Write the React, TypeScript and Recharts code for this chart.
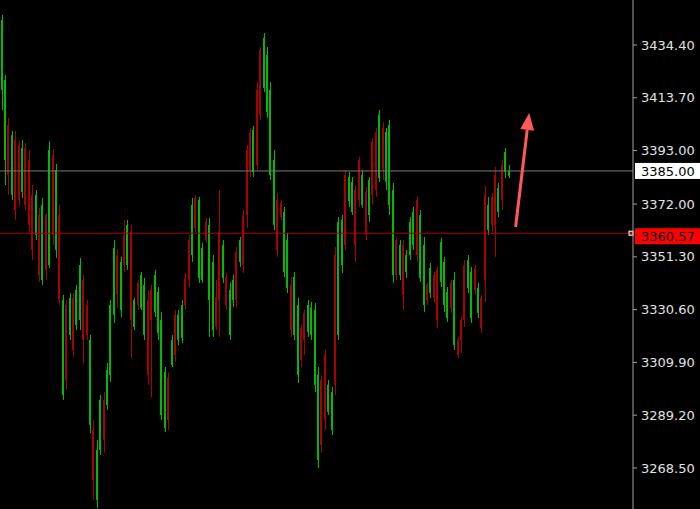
import React from 'react';
import { ComposedChart, Bar, XAxis, YAxis, ReferenceLine } from 'recharts';

// candle values
const opens = [
  3416.8, 3389.3, 3403.0, 3375.6, 3397.1, 3395.2, 3376.8, 3394.0, 3389.3, 3375.6,
  3359.9, 3367.7, 3342.2, 3367.7, 3348.1, 3391.3, 3354.0, 3367.7, 3297.1, 3332.4,
  3320.7, 3335.2, 3324.6, 3326.5, 3342.2, 3332.4, 3285.4, 3283.4, 3256.0, 3275.6,
  3295.2, 3293.2, 3305.0, 3328.5, 3352.0, 3330.5, 3359.9, 3348.1, 3361.1, 3323.8,
  3341.1, 3331.3, 3320.7, 3334.4, 3338.3, 3329.7, 3321.4, 3289.3, 3284.2, 3303.8,
  3308.9, 3328.5, 3318.7, 3319.5, 3343.0, 3357.9, 3352.0, 3374.4, 3343.0, 3342.2,
  3365.0, 3334.4, 3322.6, 3335.6, 3361.1, 3343.0, 3343.4, 3320.7, 3334.4, 3353.2,
  3349.3, 3367.7, 3393.2, 3399.9, 3384.6, 3416.8, 3432.4, 3417.5, 3408.1, 3383.4,
  3363.8, 3373.6, 3372.4, 3345.4, 3339.1, 3340.3, 3320.7, 3305.0, 3323.4, 3329.3,
  3321.8, 3320.7, 3301.1, 3271.6, 3303.0, 3312.8, 3290.5, 3283.4, 3352.0, 3320.7,
  3348.1, 3383.4, 3373.2, 3368.9, 3377.5, 3389.3, 3371.7, 3376.8, 3367.7, 3396.4,
  3400.3, 3382.2, 3401.9, 3380.7, 3371.7, 3344.2, 3357.9, 3344.2, 3356.0, 3345.4,
  3352.0, 3356.0, 3373.6, 3343.0, 3332.4, 3340.3, 3337.1, 3344.2, 3346.2, 3341.5,
  3332.4, 3327.3, 3341.1, 3316.7, 3318.7, 3326.5, 3348.1, 3339.1, 3327.3, 3346.9,
  3329.3, 3335.2, 3375.6, 3361.8, 3374.8, 3383.4, 3368.9, 3387.3, 3384.6, 3383.0,
];
const highs = [
  3446.2, 3422.6, 3405.8, 3400.7, 3400.7, 3396.8, 3397.1, 3396.0, 3393.2, 3379.5,
  3377.5, 3370.5, 3374.4, 3368.5, 3396.8, 3393.6, 3387.7, 3371.7, 3336.4, 3334.4,
  3337.1, 3337.1, 3340.3, 3350.9, 3344.2, 3334.4, 3320.7, 3287.3, 3279.5, 3297.1,
  3298.3, 3309.7, 3334.4, 3357.9, 3354.4, 3351.3, 3365.8, 3365.8, 3363.8, 3335.2,
  3342.2, 3345.4, 3343.0, 3338.3, 3340.3, 3346.2, 3339.5, 3329.7, 3308.1, 3305.8,
  3320.7, 3330.5, 3330.5, 3334.4, 3345.0, 3359.9, 3374.4, 3375.6, 3374.8, 3356.8,
  3366.6, 3366.6, 3352.0, 3342.2, 3377.5, 3357.9, 3345.0, 3341.1, 3344.2, 3355.2,
  3359.1, 3369.7, 3395.2, 3401.9, 3402.6, 3419.9, 3433.6, 3439.1, 3433.6, 3419.9,
  3393.2, 3376.4, 3373.6, 3370.9, 3360.7, 3343.4, 3345.4, 3335.2, 3324.6, 3330.5,
  3334.4, 3333.6, 3333.2, 3308.1, 3305.0, 3314.8, 3303.0, 3300.3, 3355.2, 3366.9,
  3367.7, 3385.4, 3384.6, 3382.6, 3379.5, 3390.5, 3385.4, 3378.7, 3382.6, 3397.9,
  3401.9, 3408.9, 3404.2, 3401.9, 3405.0, 3380.3, 3359.1, 3357.9, 3357.9, 3354.0,
  3366.9, 3370.9, 3374.8, 3369.7, 3359.1, 3341.1, 3348.9, 3345.4, 3347.3, 3358.7,
  3351.3, 3339.5, 3342.2, 3345.4, 3319.9, 3327.7, 3350.1, 3352.0, 3347.3, 3348.1,
  3341.1, 3336.4, 3379.1, 3374.8, 3376.4, 3386.6, 3380.3, 3389.3, 3394.0, 3387.3,
];
const lows = [
  3408.9, 3379.5, 3375.6, 3373.6, 3365.8, 3370.9, 3374.4, 3369.7, 3361.1, 3350.1,
  3357.9, 3341.5, 3340.3, 3342.2, 3346.9, 3356.0, 3350.9, 3332.4, 3295.2, 3299.1,
  3318.7, 3312.0, 3322.6, 3322.6, 3309.7, 3318.7, 3282.2, 3256.0, 3252.8, 3273.6,
  3274.4, 3291.3, 3302.2, 3325.4, 3331.3, 3327.7, 3345.4, 3346.2, 3311.6, 3322.6,
  3330.5, 3330.5, 3318.7, 3301.1, 3296.3, 3327.7, 3318.7, 3287.3, 3282.6, 3283.4,
  3308.1, 3310.1, 3316.7, 3317.5, 3330.5, 3339.5, 3349.3, 3361.1, 3341.1, 3341.1,
  3356.8, 3319.9, 3319.9, 3322.6, 3319.9, 3341.1, 3330.5, 3318.7, 3331.6, 3331.6,
  3347.3, 3345.0, 3362.6, 3382.6, 3382.6, 3385.4, 3405.0, 3416.0, 3405.8, 3381.5,
  3361.8, 3351.3, 3365.8, 3343.4, 3337.1, 3319.9, 3318.7, 3301.8, 3308.1, 3312.8,
  3319.9, 3318.7, 3298.3, 3268.5, 3274.4, 3283.4, 3289.3, 3281.4, 3297.1, 3318.7,
  3345.0, 3354.0, 3370.9, 3367.7, 3349.3, 3370.9, 3370.5, 3357.9, 3365.0, 3371.7,
  3374.8, 3380.7, 3381.5, 3377.5, 3367.7, 3341.1, 3342.2, 3342.2, 3330.5, 3343.0,
  3350.1, 3354.0, 3349.3, 3341.5, 3329.7, 3332.4, 3335.2, 3333.2, 3323.4, 3339.5,
  3329.7, 3325.8, 3329.3, 3314.8, 3311.6, 3313.6, 3323.8, 3337.1, 3325.4, 3336.4,
  3327.3, 3321.4, 3333.6, 3359.9, 3361.1, 3351.3, 3366.9, 3369.7, 3382.2, 3382.2,
];
const closes = [
  3444.2, 3420.7, 3383.4, 3399.1, 3369.7, 3373.6, 3394.0, 3371.7, 3363.8, 3354.0,
  3375.6, 3344.2, 3371.7, 3346.2, 3393.2, 3359.9, 3385.4, 3334.4, 3334.4, 3303.0,
  3335.2, 3314.8, 3338.3, 3348.1, 3318.7, 3320.7, 3318.7, 3263.8, 3275.6, 3295.2,
  3279.5, 3306.9, 3332.4, 3354.8, 3336.4, 3349.3, 3348.1, 3363.8, 3326.5, 3334.4,
  3332.4, 3344.2, 3340.3, 3305.0, 3326.5, 3344.2, 3337.5, 3326.5, 3306.1, 3287.3,
  3318.7, 3312.8, 3328.5, 3332.4, 3332.4, 3342.2, 3371.7, 3362.6, 3373.6, 3354.8,
  3357.9, 3363.8, 3349.3, 3323.8, 3334.4, 3356.0, 3332.4, 3338.3, 3342.2, 3334.4,
  3357.9, 3348.1, 3367.7, 3385.4, 3401.1, 3387.3, 3407.0, 3437.2, 3430.5, 3416.8,
  3389.3, 3354.0, 3366.9, 3368.9, 3357.9, 3322.6, 3343.4, 3332.4, 3310.9, 3318.7,
  3332.4, 3331.3, 3330.5, 3305.0, 3277.5, 3287.3, 3301.1, 3298.3, 3301.1, 3364.9,
  3365.8, 3356.0, 3382.6, 3380.7, 3356.0, 3373.6, 3383.4, 3359.9, 3381.5, 3375.6,
  3377.5, 3407.0, 3385.4, 3400.3, 3403.0, 3377.5, 3344.2, 3356.0, 3336.4, 3352.0,
  3365.0, 3368.9, 3352.0, 3367.7, 3356.0, 3334.4, 3346.9, 3335.2, 3326.5, 3357.1,
  3349.3, 3337.5, 3331.3, 3342.2, 3312.8, 3318.7, 3326.5, 3350.1, 3345.4, 3338.3,
  3339.1, 3323.4, 3342.2, 3371.7, 3363.8, 3363.8, 3378.3, 3373.6, 3392.4, 3385.0,
];

const priceTicks = [3268.5, 3289.2, 3309.9, 3330.6, 3351.3, 3372.0, 3393.0, 3413.7, 3434.4];
const priceDomain = [3252.4, 3452.05];
const bidPrice = 3385.0;
const orderPrice = 3360.57;
// the hand-drawn arrow (slot index, price)
const arrowFrom = { slot: 151, price: 3363.0 };
const arrowTo = { slot: 155, price: 3407.7 };
const totalSlots = 186; // includes empty shift area on the right

const GREEN = '#00bc00';
const RED = '#aa0000';
const FONT = 'DejaVu Sans, sans-serif';

const data = Array.from({ length: totalSlots }, (_, i) =>
  i < opens.length
    ? { i, open: opens[i], high: highs[i], low: lows[i], close: closes[i], range: [lows[i], highs[i]] }
    : { i, range: null }
);

const Candle = (props: any) => {
  const { x, y, width, height, payload } = props;
  if (!payload || payload.open == null || !height) return null;
  const { open, close, high, low } = payload;
  const k = height / (high - low);
  const yOf = (v: number) => y + (high - v) * k;
  const color = close >= open ? GREEN : RED;
  const cx = Math.round(x + width / 2);
  const top = yOf(Math.max(open, close));
  const bot = yOf(Math.min(open, close));
  return (
    <g>
      <rect x={cx} y={y} width={1} height={height} fill={color} />
      <rect x={cx - 1} y={top} width={2} height={Math.max(bot - top, 1)} fill={color} />
    </g>
  );
};

const Arrow = (props: any) => {
  const { x1, y1, x2, y2 } = props;
  if (x1 == null) return null;
  const dx = x2 - x1;
  const dy = y2 - y1;
  const len = Math.sqrt(dx * dx + dy * dy);
  const ux = dx / len;
  const uy = dy / len;
  const bx = x2 - ux * 17;
  const by = y2 - uy * 17;
  const nx = -uy * 7;
  const ny = ux * 7;
  return (
    <g>
      <line x1={x1} y1={y1} x2={bx} y2={by} stroke="#ff5a5a" strokeWidth={3} />
      <polygon points={`${x2},${y2} ${bx + nx},${by + ny} ${bx - nx},${by - ny}`} fill="#ff5a5a" />
    </g>
  );
};

// price tag on the axis; dy shifts the box relative to the line
const priceBox = (text: string, bg: string, marker: boolean, dy: number) => (p: any) => {
  const { viewBox } = p;
  if (!viewBox) return null;
  const right = viewBox.x + viewBox.width;
  const y = viewBox.y;
  return (
    <g>
      {marker && <rect x={right - 4} y={y - 2} width={4} height={4} fill={RED} stroke="#fff" strokeWidth={1} />}
      <rect x={right + 2} y={y - 8 + dy} width={66} height={16} fill={bg} />
      <text x={right + 8} y={y + 5 + dy} fontSize={13} fontFamily={FONT} fill="#000">
        {text}
      </text>
    </g>
  );
};

export default function App() {
  return (
    <div style={{ position: 'fixed', left: 0, top: 0, width: 700, height: 509, background: '#000' }}>
      <ComposedChart
        width={700}
        height={509}
        data={data}
        margin={{ top: 0, right: 0, bottom: 0, left: 0 }}
        barCategoryGap={0}
      >
        <XAxis dataKey="i" type="category" hide />
        <YAxis
          orientation="right"
          width={67}
          domain={priceDomain}
          ticks={priceTicks}
          allowDataOverflow
          tickFormatter={(v: number) => v.toFixed(2)}
          axisLine={{ stroke: '#a0a0a0' }}
          tickLine={{ stroke: '#a0a0a0' }}
          tickSize={4}
          tickMargin={4}
          tick={{ fill: '#e2e2e2', fontSize: 13, fontFamily: FONT }}
        />
        <Bar dataKey="range" shape={Candle} isAnimationActive={false} />
        <ReferenceLine y={bidPrice} stroke="#757c86" label={priceBox(bidPrice.toFixed(2), '#ffffff', false, 0)} />
        <ReferenceLine y={orderPrice} stroke={RED} label={priceBox(orderPrice.toFixed(2), '#ff0000', true, 3)} />
        <ReferenceLine
          segment={[
            { x: arrowFrom.slot, y: arrowFrom.price },
            { x: arrowTo.slot, y: arrowTo.price },
          ]}
          shape={Arrow}
          ifOverflow="visible"
        />
      </ComposedChart>
    </div>
  );
}
